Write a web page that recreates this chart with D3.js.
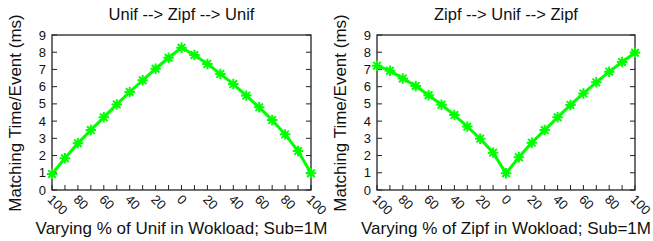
<!DOCTYPE html>
<html>
<head>
<meta charset="utf-8">
<script src="https://cdn.jsdelivr.net/npm/d3@7"></script>
<style>
  body { margin: 0; background: #fff; }
  svg { display: block; font-family: "Liberation Sans", Arial, sans-serif; }
</style>
</head>
<body>
<svg width="653" height="241"></svg>
<script>
// x positions are the 21 steps of each workload sweep
var xLabels = ["100", "80", "60", "40", "20", "0", "20", "40", "60", "80", "100"];
var yTicks = [0, 1, 2, 3, 4, 5, 6, 7, 8, 9];

var titles = ["Unif --> Zipf --> Unif", "Zipf --> Unif --> Zipf"];
var xTitles = ["Varying % of Unif in Wokload; Sub=1M", "Varying % of Zipf in Wokload; Sub=1M"];
var yTitle = "Matching Time/Event (ms)";

var unifZipfUnif = [0.93, 1.84, 2.71, 3.48, 4.22, 4.97, 5.69, 6.37, 7.04, 7.68, 8.26,
                    7.84, 7.32, 6.74, 6.15, 5.48, 4.80, 4.06, 3.23, 2.26, 0.97];
var zipfUnifZipf = [7.22, 6.93, 6.48, 6.04, 5.50, 4.95, 4.35, 3.68, 2.98, 2.17, 0.97,
                    1.90, 2.75, 3.48, 4.22, 4.94, 5.61, 6.25, 6.87, 7.43, 7.97];

var series = [unifZipfUnif, zipfUnifZipf];

var svg = d3.select("svg");
var panels = [{left: 52, right: 311}, {left: 377, right: 635}];
var plotTop = 35, plotBottom = 190;

var y = d3.scaleLinear().domain([0, 9]).range([plotBottom, plotTop]);

// gnuplot-style "*" point
var star = d3.symbol().type({
  draw: function(ctx, size) {
    var r = Math.sqrt(size) / 2, d = r * 0.72;
    ctx.moveTo(-r, 0); ctx.lineTo(r, 0);
    ctx.moveTo(0, -r); ctx.lineTo(0, r);
    ctx.moveTo(-d, -d); ctx.lineTo(d, d);
    ctx.moveTo(-d, d); ctx.lineTo(d, -d);
  }
}).size(110);

panels.forEach(function(p, i) {
  var data = series[i];
  var x = d3.scaleLinear().domain([0, 20]).range([p.left, p.right]);
  var g = svg.append("g");

  // frame
  g.append("rect")
    .attr("x", p.left).attr("y", plotTop)
    .attr("width", p.right - p.left).attr("height", plotBottom - plotTop)
    .attr("fill", "none").attr("stroke", "#222").attr("stroke-width", 1.3);

  // y ticks, left and mirrored right
  g.selectAll(".ytl").data(yTicks).enter().append("line")
    .attr("x1", p.left).attr("x2", p.left + 5)
    .attr("y1", function(d) { return y(d); }).attr("y2", function(d) { return y(d); })
    .attr("stroke", "#222");
  g.selectAll(".ytr").data(yTicks).enter().append("line")
    .attr("x1", p.right).attr("x2", p.right - 5)
    .attr("y1", function(d) { return y(d); }).attr("y2", function(d) { return y(d); })
    .attr("stroke", "#222");
  g.selectAll(".ylab").data(yTicks).enter().append("text")
    .attr("x", p.left - 6).attr("y", function(d) { return y(d); })
    .attr("dy", "0.35em").attr("text-anchor", "end")
    .style("font-size", "13px").attr("fill", "#111")
    .text(function(d) { return d; });

  // x ticks at every point, labels every other
  g.selectAll(".xt").data(d3.range(21)).enter().append("line")
    .attr("x1", function(d) { return x(d); }).attr("x2", function(d) { return x(d); })
    .attr("y1", plotBottom).attr("y2", plotBottom - 5)
    .attr("stroke", "#222");
  g.selectAll(".xlab").data(xLabels).enter().append("text")
    .attr("transform", function(d, j) { return "translate(" + (x(j * 2) - 2) + "," + (plotBottom + 7) + ") rotate(45)"; })
    .attr("dy", "0.35em")
    .style("font-size", "13px").attr("fill", "#111")
    .text(function(d) { return d; });

  // line + markers
  var line = d3.line()
    .x(function(d, j) { return x(j); })
    .y(function(d) { return y(d); });
  g.append("path").datum(data)
    .attr("d", line)
    .attr("fill", "none").attr("stroke", "#00ff00").attr("stroke-width", 3);
  g.selectAll(".pt").data(data).enter().append("path")
    .attr("transform", function(d, j) { return "translate(" + x(j) + "," + y(d) + ")"; })
    .attr("d", star)
    .attr("fill", "none").attr("stroke", "#00ff00").attr("stroke-width", 2);

  var cx = (p.left + p.right) / 2;
  g.append("text")
    .attr("x", cx).attr("y", 20).attr("text-anchor", "middle")
    .style("font-size", "16.5px").attr("fill", "#111")
    .text(titles[i]);
  g.append("text")
    .attr("x", cx).attr("y", 234).attr("text-anchor", "middle")
    .style("font-size", "17px").attr("fill", "#111")
    .text(xTitles[i]);
  g.append("text")
    .attr("transform", "translate(" + (p.left - 37) + "," + 113 + ") rotate(-90)")
    .attr("dy", "0.35em")
    .attr("text-anchor", "middle")
    .style("font-size", "17px").attr("fill", "#111")
    .text(yTitle);
});
</script>
</body>
</html>
